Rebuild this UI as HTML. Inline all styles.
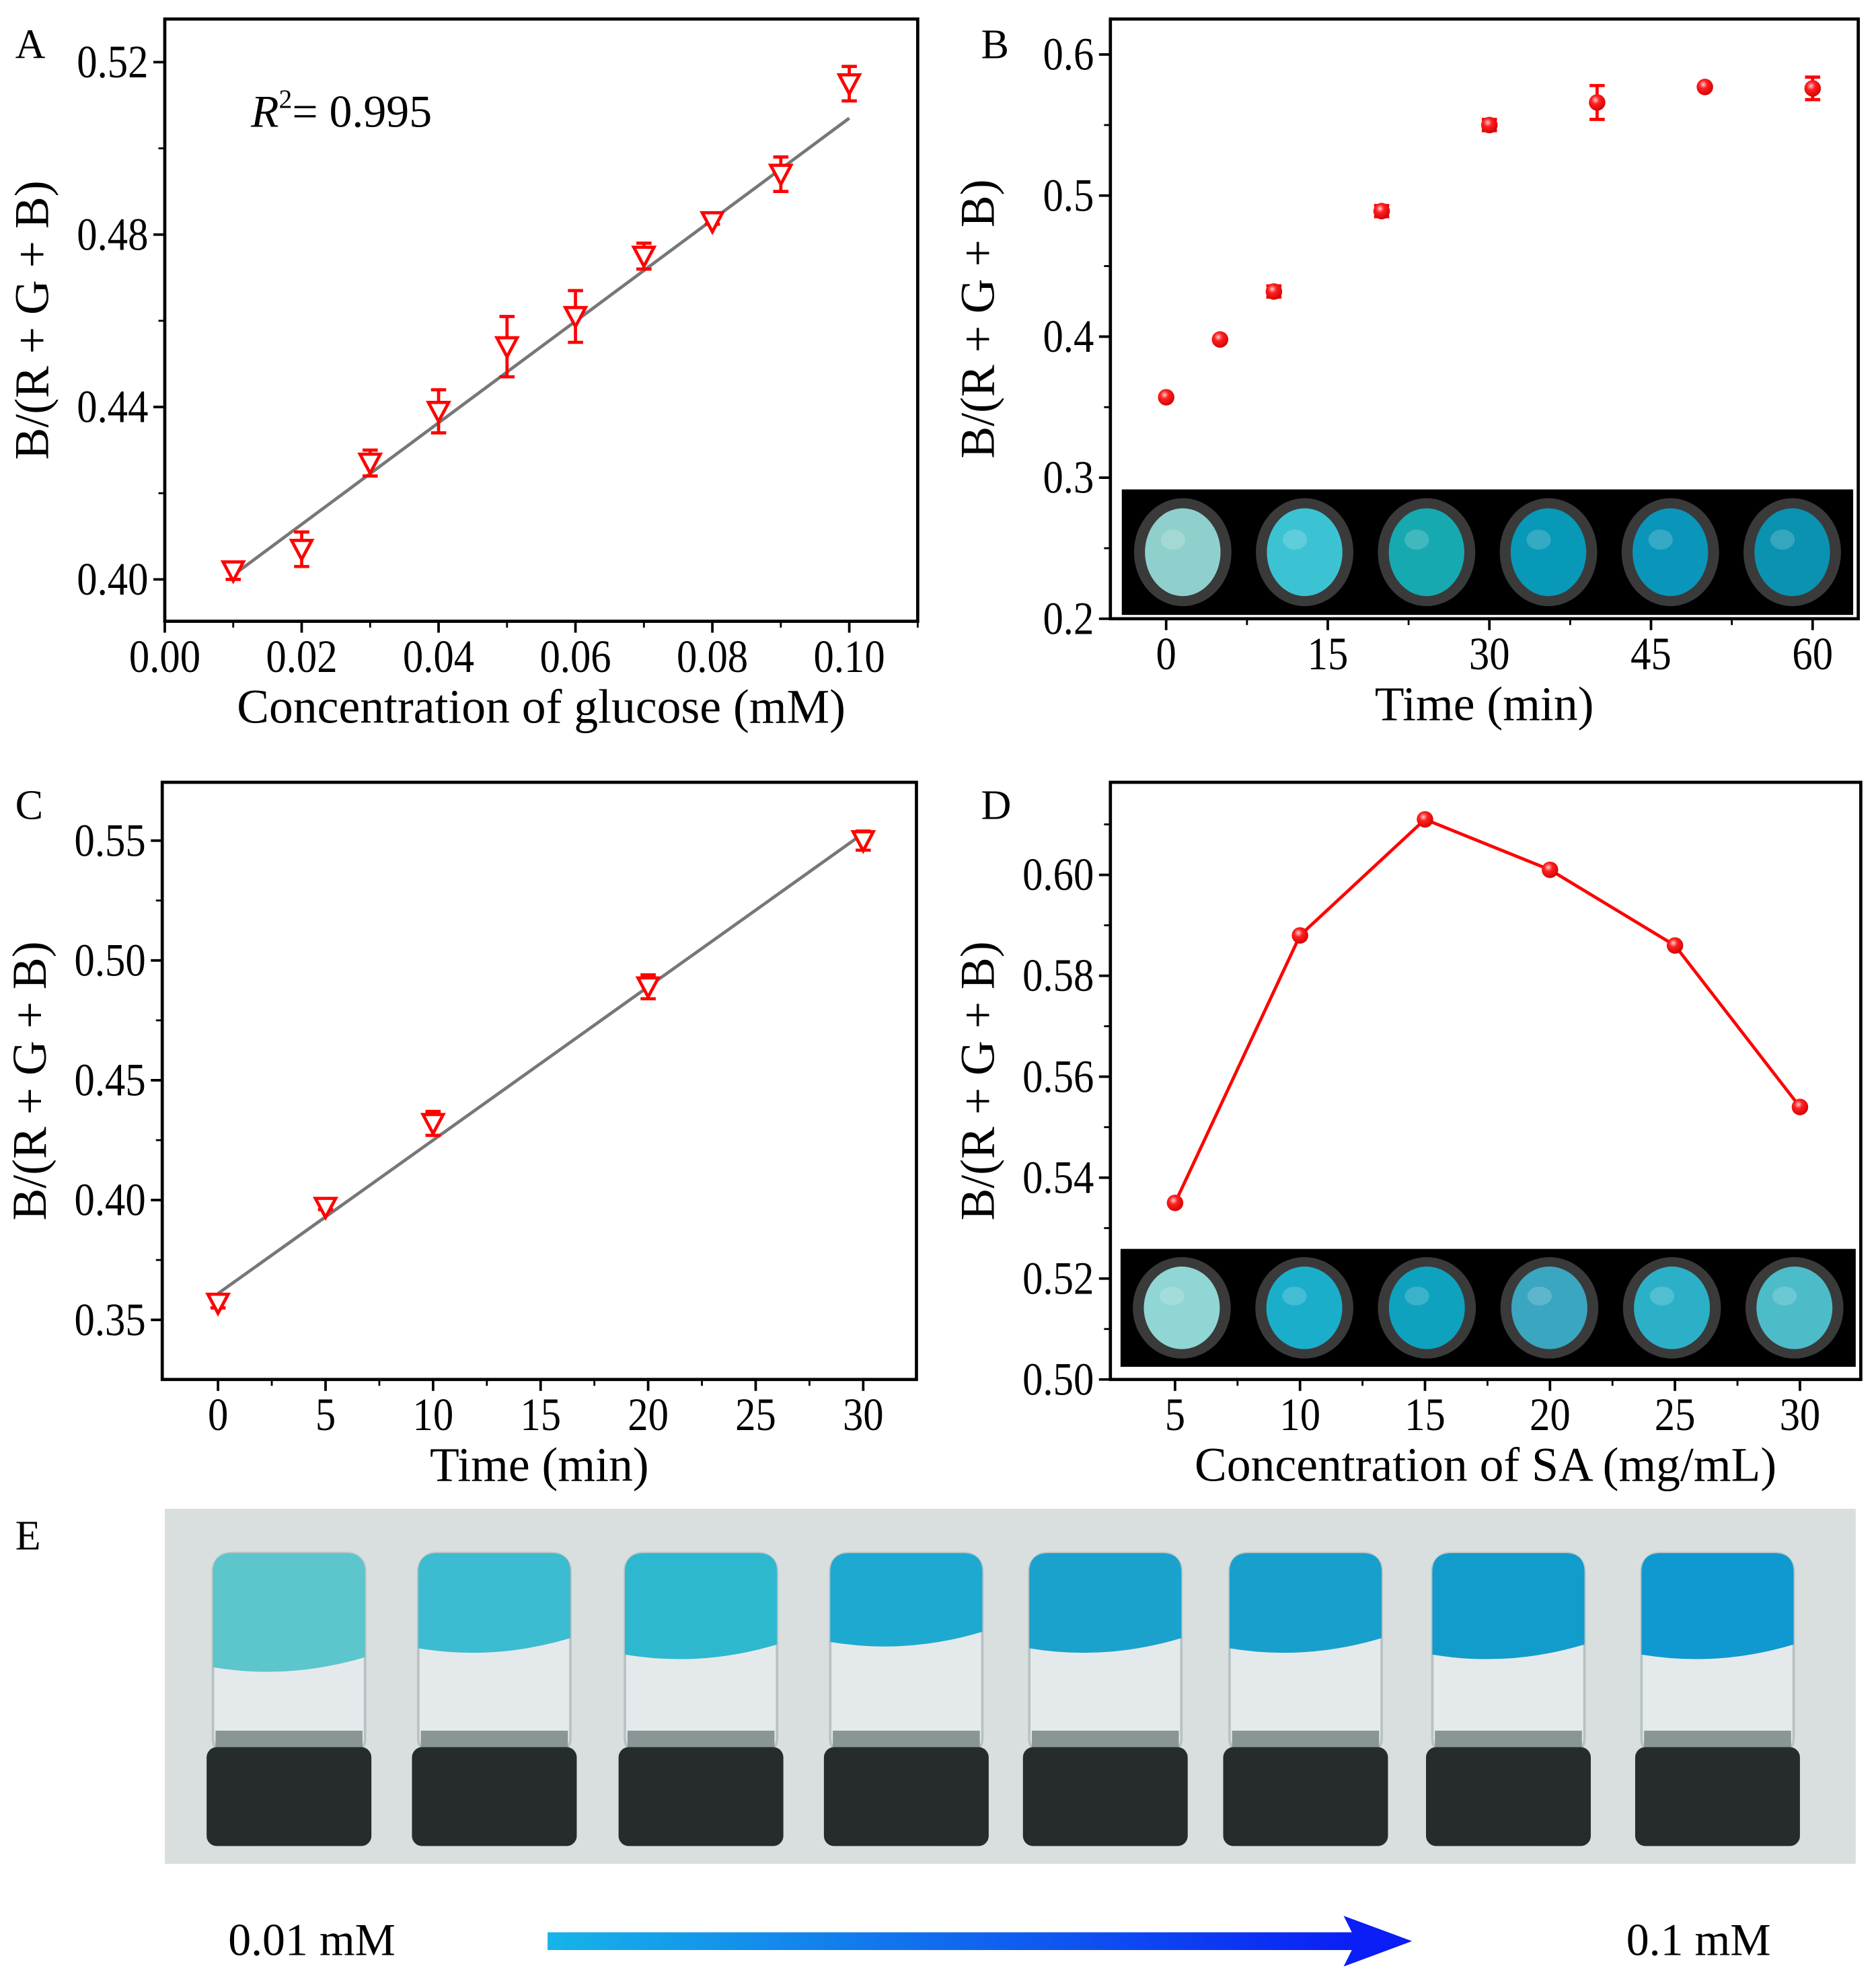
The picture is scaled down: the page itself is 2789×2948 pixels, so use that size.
<!DOCTYPE html>
<html><head><meta charset="utf-8"><style>
html,body{margin:0;padding:0;background:#fff}
svg{display:block}
text{font-family:"Liberation Serif",serif;fill:#000}
</style></head><body>
<svg id="fig" xmlns="http://www.w3.org/2000/svg" width="2789" height="2948" viewBox="0 0 1480 1564" preserveAspectRatio="none">
<defs>
<linearGradient id="arrowGrad" x1="0" x2="1" y1="0" y2="0"><stop offset="0" stop-color="#16b4e8"/><stop offset="1" stop-color="#0a1ef5"/></linearGradient>
<radialGradient id="dotGrad" cx="0.4" cy="0.35" r="0.7"><stop offset="0" stop-color="#ffd0d0"/><stop offset="0.35" stop-color="#ff2020"/><stop offset="1" stop-color="#d00000"/></radialGradient>
</defs>
</svg>
<script>
// ---- Panel A data ----
const aX = [0.01,0.02,0.03,0.04,0.05,0.06,0.07,0.08,0.09,0.10];
const aY = [0.402,0.407,0.427,0.439,0.454,0.461,0.475,0.483,0.494,0.515];
const aErr = [0.002,0.004,0.003,0.005,0.007,0.006,0.003,0.0006,0.004,0.004];
const aFit = [0.401,0.507];
const aXTicks = [0,0.02,0.04,0.06,0.08,0.10];
const aXLabels = ["0.00","0.02","0.04","0.06","0.08","0.10"];
const aYTicks = [0.40,0.44,0.48,0.52];
const aYLabels = ["0.40","0.44","0.48","0.52"];
// ---- Panel B data ----
const bX = [0,5,10,20,30,40,50,60];
const bY = [0.357,0.398,0.432,0.489,0.550,0.566,0.577,0.576];
const bErr = [0.001,0.001,0.004,0.004,0.004,0.012,0.001,0.008];
const bXTicks = [0,15,30,45,60];
const bYTicks = [0.2,0.3,0.4,0.5,0.6];
const bYLabels = ["0.2","0.3","0.4","0.5","0.6"];
// ---- Panel C data ----
const cX = [0,5,10,20,30];
const cY = [0.357,0.397,0.432,0.489,0.550];
const cErr = [0.002,0.001,0.005,0.005,0.004];
const cFit = [0.361,0.553];
const cXTicks = [0,5,10,15,20,25,30];
const cYTicks = [0.35,0.40,0.45,0.50,0.55];
const cYLabels = ["0.35","0.40","0.45","0.50","0.55"];
// ---- Panel D data ----
const dX = [5,10,15,20,25,30];
const dY = [0.535,0.588,0.611,0.601,0.586,0.554];
const dXTicks = [5,10,15,20,25,30];
const dYTicks = [0.50,0.52,0.54,0.56,0.58,0.60];
const dYLabels = ["0.50","0.52","0.54","0.56","0.58","0.60"];

const svg = document.getElementById('fig');
const NS = 'http://www.w3.org/2000/svg';
function mk(tag, attrs, parent, txt){const e=document.createElementNS(NS,tag);for(const k in attrs)e.setAttribute(k,attrs[k]);if(txt!==undefined)e.textContent=txt;(parent||svg).appendChild(e);return e;}
function lin(d0,d1,r0,r1){return v=>r0+(v-d0)*(r1-r0)/(d1-d0);}

function axes(g, box, sx, sy, xt, xl, yt, yl, xMinor, yMinor, title, ytitle, letter, lx, ly){
  const fr = mk('rect',{x:box.x0,y:box.y0,width:box.x1-box.x0,height:box.y1-box.y0,fill:'none',stroke:'#000','stroke-width':2.5},g);
  
  
  xt.forEach((v,i)=>{const x=sx(v);
    mk('line',{x1:x,x2:x,y1:box.y1,y2:box.y1+9,stroke:'#000','stroke-width':2},g);
    const t=mk('text',{x:x,y:box.y1+40,'text-anchor':'middle','font-size':35,transform:`translate(${x},${box.y1+40}) scale(0.92,1.05) translate(${-x},${-(box.y1+40)})`},g,xl[i]);
    
    });
  xMinor.forEach(v=>{const x=sx(v);mk('line',{x1:x,x2:x,y1:box.y1,y2:box.y1+5,stroke:'#000','stroke-width':1.5},g);});
  yt.forEach((v,i)=>{const y=sy(v);
    mk('line',{x1:box.x0-9,x2:box.x0,y1:y,y2:y,stroke:'#000','stroke-width':2},g);
    const t=mk('text',{x:box.x0-13,y:y+12,'text-anchor':'end','font-size':35,transform:`translate(${box.x0-13},${y+12}) scale(0.92,1.05) translate(${-(box.x0-13)},${-(y+12)})`},g,yl[i]);
    
    });
  yMinor.forEach(v=>{const y=sy(v);mk('line',{x1:box.x0-5,x2:box.x0,y1:y,y2:y,stroke:'#000','stroke-width':1.5},g);});
  const xtt=mk('text',{x:(box.x0+box.x1)/2,y:box.y1+80,'text-anchor':'middle','font-size':38},g,title);
  
  
  const cy=(box.y0+box.y1)/2;
  const ytt=mk('text',{x:box.x0-92,y:cy,'text-anchor':'middle','font-size':38,transform:`rotate(-90 ${box.x0-92} ${cy})`},g,ytitle);
  
  
  const lt=mk('text',{x:lx,y:ly,'font-size':33},g,letter);
  
  
}
function errBar(g,x,y1,y2){
  mk('line',{x1:x,x2:x,y1:y1,y2:y2,stroke:'#f00','stroke-width':2.5},g);
  mk('line',{x1:x-6,x2:x+6,y1:y1,y2:y1,stroke:'#f00','stroke-width':2.5},g);
  mk('line',{x1:x-6,x2:x+6,y1:y2,y2:y2,stroke:'#f00','stroke-width':2.5},g);
}
function tri(g,x,y){const p=mk('path',{d:`M${x-8},${y-7} L${x+8},${y-7} L${x},${y+8} Z`,fill:'#fff',stroke:'#f00','stroke-width':2.5},g);
  
  }
function dot(g,x,y){const c=mk('circle',{cx:x,cy:y,r:6.5,fill:'url(#dotGrad)'},g);
  
  }
function wells(g,x0,y0,w,h,cols){
  const r=mk('rect',{x:x0,y:y0,width:w,height:h,fill:'#000'},g);
  
  
  const n=cols.length, step=w/n;
  cols.forEach((c,i)=>{const cx=x0+step*(i+0.5), cy=y0+h/2;
    mk('ellipse',{cx:cx,cy:cy,rx:step*0.40,ry:h*0.43,fill:'#3a3a3a'},g);
    mk('ellipse',{cx:cx,cy:cy,rx:step*0.31,ry:h*0.35,fill:c},g);
    mk('ellipse',{cx:cx-step*0.08,cy:cy-h*0.1,rx:step*0.1,ry:h*0.08,fill:'#fff',opacity:0.18},g);});
}

// ---- Panel A ----
(function(){
  const g=mk('g',{});  
  const box={x0:130,x1:724,y0:15,y1:490};
  const sx=lin(0,0.10,130,670), sy=lin(0.40,0.52,457,49);
  axes(g,box,sx,sy,aXTicks,aXLabels,aYTicks,aYLabels,[0.01,0.03,0.05,0.07,0.09,0.11],[0.42,0.46,0.50],'Concentration of glucose (mM)','B/(R + G + B)','A',12,46);
  const fl=mk('line',{x1:sx(aX[0]),y1:sy(aFit[0]),x2:sx(aX[aX.length-1]),y2:sy(aFit[1]),stroke:'#777','stroke-width':2.5},g);
   
  aX.forEach((v,i)=>{errBar(g,sx(v),sy(aY[i]+aErr[i]),sy(aY[i]-aErr[i]));tri(g,sx(v),sy(aY[i]));});
  const r=mk('text',{x:198,y:100,'font-size':36},g);
   
  mk('tspan',{'font-style':'italic'},r,'R');mk('tspan',{'font-size':21,dy:-15},r,'2');mk('tspan',{dy:15},r,'= 0.995');
})();
// ---- Panel B ----
(function(){
  const g=mk('g',{});  
  const box={x0:876,x1:1466,y0:15,y1:488};
  const sx=lin(0,60,920,1430), sy=lin(0.2,0.6,488,43);
  wells(g,885,386,577,99,['#8fd0cc','#3cc3d3','#17a9b0','#0898b8','#0a96bb','#0a92b0']);
  axes(g,box,sx,sy,bXTicks,bXTicks.map(String),bYTicks,bYLabels,[7.5,22.5,37.5,52.5],[0.25,0.35,0.45,0.55],'Time (min)','B/(R + G + B)','B',774,46);
  bX.forEach((v,i)=>{errBar(g,sx(v),sy(bY[i]+bErr[i]),sy(bY[i]-bErr[i]));dot(g,sx(v),sy(bY[i]));});
})();
// ---- Panel C ----
(function(){
  const g=mk('g',{});  
  const box={x0:128,x1:723,y0:617,y1:1088};
  const sx=lin(0,30,172,681), sy=lin(0.35,0.55,1041,663);
  axes(g,box,sx,sy,cXTicks,cXTicks.map(String),cYTicks,cYLabels,[2.5,7.5,12.5,17.5,22.5,27.5],[0.375,0.425,0.475,0.525],'Time (min)','B/(R + G + B)','C',12,646);
  const fl=mk('line',{x1:sx(cX[0]),y1:sy(cFit[0]),x2:sx(cX[cX.length-1]),y2:sy(cFit[1]),stroke:'#777','stroke-width':2.5},g);
   
  cX.forEach((v,i)=>{errBar(g,sx(v),sy(cY[i]+cErr[i]),sy(cY[i]-cErr[i]));tri(g,sx(v),sy(cY[i]));});
})();
// ---- Panel D ----
(function(){
  const g=mk('g',{});  
  const box={x0:876,x1:1468,y0:617,y1:1088};
  const sx=lin(5,30,927,1420), sy=lin(0.50,0.60,1088,690);
  wells(g,884,985,580,93,['#8fd6d4','#1aaecb','#0ea2bf','#3aa6c0','#2cb0c8','#4cbcc8']);
  axes(g,box,sx,sy,dXTicks,dXTicks.map(String),dYTicks,dYLabels,[7.5,12.5,17.5,22.5,27.5],[0.51,0.53,0.55,0.57,0.59,0.61],'Concentration of SA (mg/mL)','B/(R + G + B)','D',774,646);
  const pl=mk('polyline',{points:dX.map((v,i)=>sx(v)+','+sy(dY[i])).join(' '),fill:'none',stroke:'#f00','stroke-width':2.5},g);
   
  dX.forEach((v,i)=>dot(g,sx(v),sy(dY[i])));
})();
// ---- Panel E ----
(function(){
  const g=mk('g',{});  
  const bg=mk('rect',{x:130,y:1190,width:1334,height:280,fill:'#d9dedf'},g);
   
  const lt=mk('text',{x:12,y:1222,'font-size':33},g,'E');
   
  const centers=[228,390,553,715,872,1030,1190,1355];
  const gelBottom=[1315,1300,1305,1295,1300,1300,1305,1305];
  const gelCol=['#5cc6cc','#3cbcd0','#2eb8d0','#1eaad0','#1aa2cc','#18a0cc','#129ccc','#1098d0'];
  centers.forEach((cx,i)=>{
    const v=mk('g',{},g);  
    mk('rect',{x:cx-60,y:1225,width:120,height:160,rx:14,fill:'#e4eaeb',stroke:'#b8c2c4','stroke-width':2},v);
    mk('path',{d:`M${cx-60},1240 Q${cx-60},1225 ${cx-45},1225 L${cx+45},1225 Q${cx+60},1225 ${cx+60},1240 L${cx+60},${gelBottom[i]-8} Q${cx},${gelBottom[i]+10} ${cx-60},${gelBottom[i]} Z`,fill:gelCol[i]},v);
    mk('rect',{x:cx-58,y:1365,width:116,height:14,fill:'#8a9596'},v);
    mk('rect',{x:cx-65,y:1378,width:130,height:78,rx:8,fill:'#262b2d'},v);
  });
  const a=mk('g',{},g);  
  mk('rect',{x:432,y:1524,width:640,height:14,fill:'url(#arrowGrad)'},a);
  mk('path',{d:'M1060,1511 L1114,1531 L1060,1551 L1070,1531 Z',fill:'#0a1ef5'},a);
  const t1=mk('text',{x:180,y:1542,'font-size':36},g,'0.01 mM');
   
  const t2=mk('text',{x:1283,y:1542,'font-size':36},g,'0.1 mM');
   
})();
</script>
</body></html>
